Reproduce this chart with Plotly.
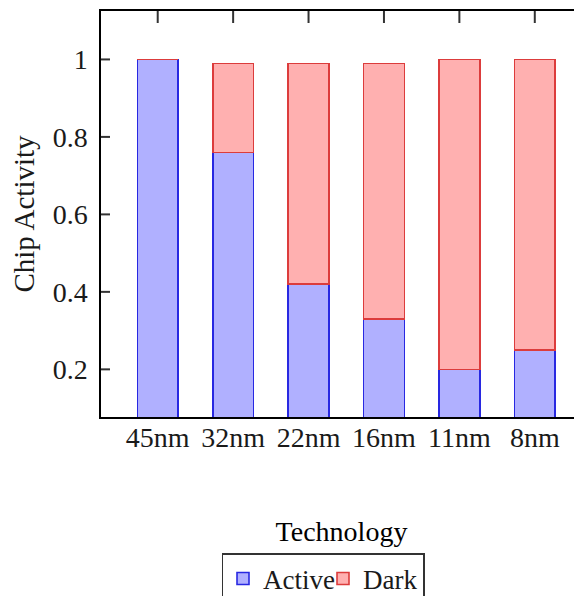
import plotly.graph_objects as go

categories = ["45nm", "32nm", "22nm", "16nm", "11nm", "8nm"]
active = [1.00, 0.76, 0.42, 0.33, 0.20, 0.25]
dark = [0.00, 0.23, 0.57, 0.66, 0.80, 0.75]
y_tickvals = [0.2, 0.4, 0.6, 0.8, 1.0]
y_ticktext = ["0.2", "0.4", "0.6", "0.8", "1"]

SERIF = "Liberation Serif"
W, H = 574, 588  # page body has an 8px margin
PLOT_W = W - 93
PLOT_H = H - 3 - 179

fig = go.Figure()
fig.add_trace(go.Bar(
    x=categories, y=active, name="Active",
    marker=dict(color="rgb(176,176,255)", line=dict(color="rgb(40,40,225)", width=1.6)),
))
fig.add_trace(go.Bar(
    x=categories, y=dark, name="Dark",
    marker=dict(color="rgb(255,176,176)", line=dict(color="rgb(220,60,60)", width=1.6)),
))

# inward tick marks along the top and both sides of the frame
tick_style = dict(color="#333", width=2)
for c in categories:
    fig.add_shape(type="line", xref="x", yref="paper", x0=c, x1=c,
                  y0=1, y1=1 - 12 / PLOT_H, line=tick_style, layer="above")
for v in y_tickvals:
    fig.add_shape(type="line", xref="paper", yref="y", x0=0, x1=9 / PLOT_W,
                  y0=v, y1=v, line=tick_style, layer="above")
    fig.add_shape(type="line", xref="paper", yref="y", x0=1 - 8 / PLOT_W, x1=1,
                  y0=v, y1=v, line=tick_style, layer="above")

fig.update_layout(
    width=W, height=H,
    barmode="stack", bargap=0.46,
    plot_bgcolor="white", paper_bgcolor="white",
    margin=dict(l=93, r=0, t=3, b=179, autoexpand=False),
    font=dict(family=SERIF, size=28, color="#1a1a1a"),
    showlegend=True,
    legend=dict(
        orientation="h",
        xref="container", yref="container",
        x=(323 - 8) / W, xanchor="center", y=1 - 545 / H, yanchor="top",
        bordercolor="#333", borderwidth=1.5,
        font=dict(family=SERIF, size=27, color="#1a1a1a"),
        itemwidth=30, entrywidth=55, entrywidthmode="pixels",
        traceorder="normal",
    ),
)
fig.update_xaxes(
    range=[-0.752, 5.626],
    showline=True, linecolor="black", linewidth=1.5, mirror=True,
    ticks="", ticklabelstandoff=-5,
    tickfont=dict(family=SERIF, size=28, color="#1a1a1a"),
    title=dict(text="Technology", standoff=69,
               font=dict(family=SERIF, size=28, color="black")),
    showgrid=False, zeroline=False,
)
fig.update_yaxes(
    range=[0.077, 1.125],
    tickvals=y_tickvals, ticktext=y_ticktext,
    showline=True, linecolor="black", linewidth=1.5, mirror=False,
    ticks="", ticklabelstandoff=6,
    tickfont=dict(family=SERIF, size=28, color="#1a1a1a"),
    title=dict(text="Chip Activity", standoff=10,
               font=dict(family=SERIF, size=29, color="#1a1a1a")),
    showgrid=False, zeroline=False,
)

fig.write_html("out.html")
